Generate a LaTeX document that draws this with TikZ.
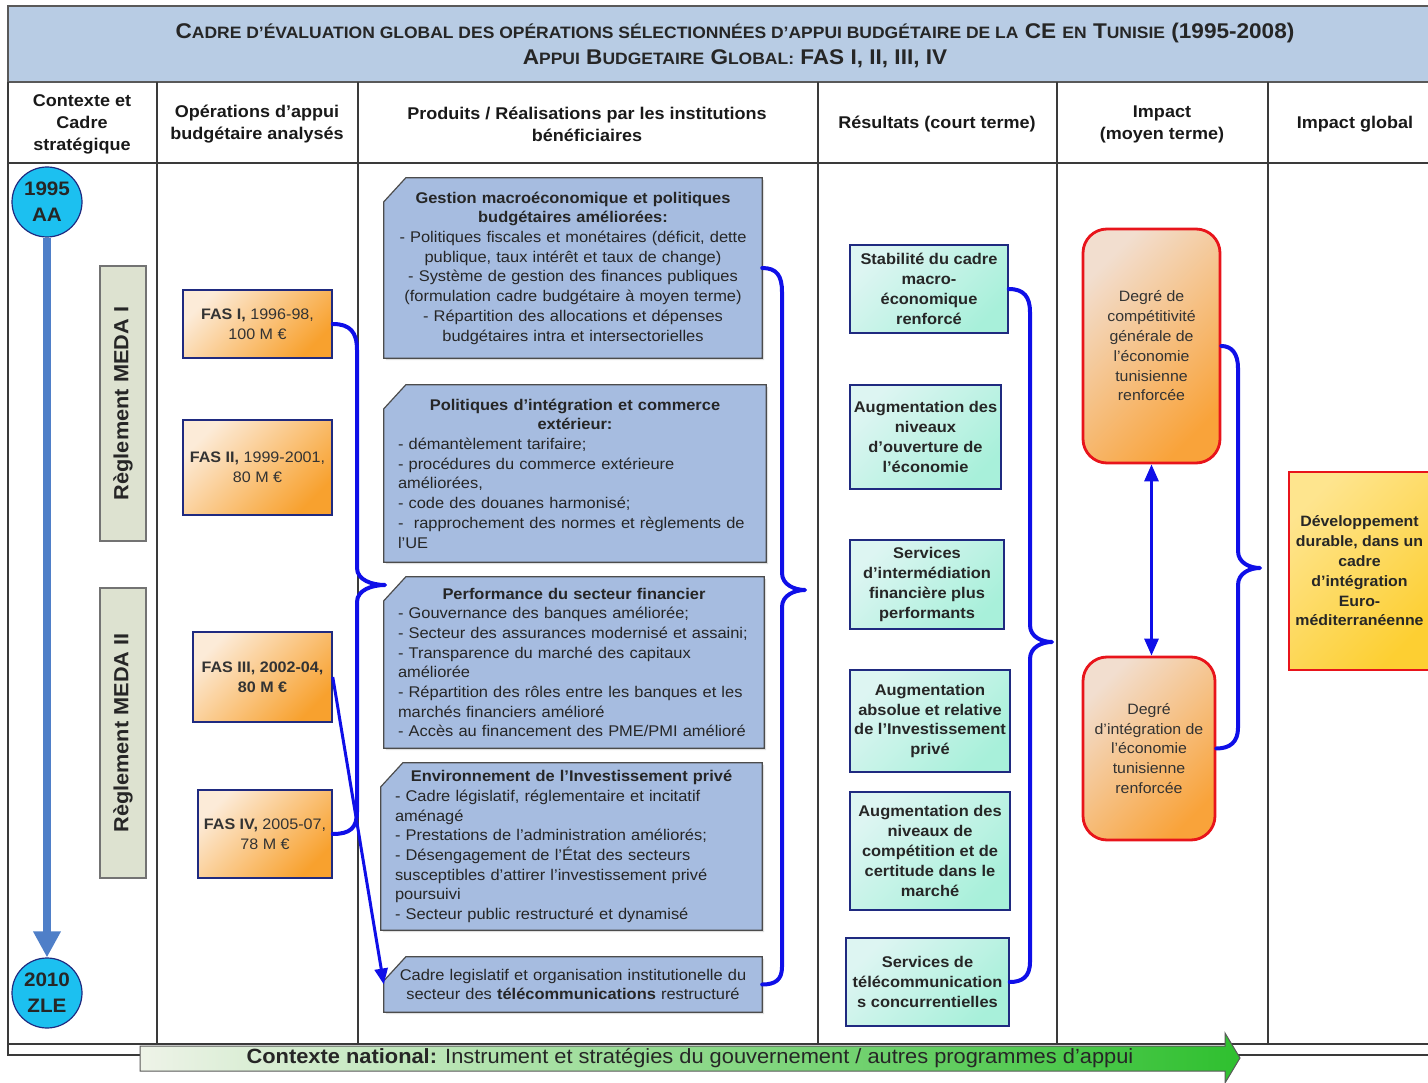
\documentclass[tikz,border=0pt]{standalone}
\usepackage{fontspec}
\setmainfont{Liberation Sans}[FakeStretch=1.06]
\usetikzlibrary{arrows.meta,shadows}
\pgfdeclarelayer{bg}
\pgfsetlayers{bg,main}
\definecolor{hdrblue}{HTML}{B8CCE4}
\definecolor{prodblue}{HTML}{A6BCE0}
\definecolor{navy}{HTML}{1F2A80}
\definecolor{fasA}{HTML}{FCEBD8}
\definecolor{fasB}{HTML}{F8A12E}
\definecolor{mintA}{HTML}{DDF5F2}
\definecolor{mintB}{HTML}{A8F0DA}
\definecolor{impA}{HTML}{F2DECF}
\definecolor{impB}{HTML}{F9A33A}
\definecolor{impred}{HTML}{E8141B}
\definecolor{globY}{HTML}{FDCF32}
\definecolor{medag}{HTML}{DDE2D0}
\definecolor{cyanc}{HTML}{1CC0F0}
\definecolor{tlblue}{HTML}{4F7FC8}
\definecolor{brblue}{HTML}{0F0FE8}
\definecolor{grA}{HTML}{EEF3E8}
\definecolor{grB}{HTML}{2FC02F}
\definecolor{gridc}{HTML}{3A3A3A}
\newcommand\Lr[1]{\noindent\makebox[\hsize][l]{#1}\par}
\newcommand\Lc[1]{\noindent\makebox[\hsize][c]{#1}\par}
\newcommand\tsc[2]{{\fontsize{21.3}{26}\selectfont #1}{\fontsize{16.5}{26}\selectfont #2}}
\tikzset{
  gridline/.style={draw=gridc, line width=1.3pt},
  colhead/.style={font=\fontsize{17}{22}\selectfont\bfseries, align=center, text=black!90},
  prod/.style={inner xsep=14pt, inner ysep=0pt, font=\fontsize{15.5}{19.7}\selectfont, text=black!85},
  prodshape/.style={fill=prodblue, draw=black!70, line width=1.2pt, drop shadow={shadow xshift=2pt, shadow yshift=-2pt, opacity=0.25}},
  fasbox/.style={draw=navy, line width=1.5pt, left color=fasA, right color=fasB, shading angle=45, align=center, inner sep=2pt, font=\fontsize{15.2}{20}\selectfont, text=black!80},
  resbox/.style={draw=navy, line width=1.5pt, left color=mintA, right color=mintB, shading angle=45, align=center, inner sep=2pt, font=\fontsize{15.5}{19.8}\selectfont\bfseries, text=black!85},
  impbox/.style={draw=impred, line width=2.8pt, rounded corners=24pt, left color=impA, right color=impB, shading angle=45, align=center, inner sep=2pt, font=\fontsize{15}{19.8}\selectfont, text=black!80},
  globbox/.style={draw=impred, line width=1.2pt, left color=globY!55!white, right color=globY, shading angle=45, align=center, inner sep=2pt, font=\fontsize{15}{19.8}\selectfont\bfseries, text=black!85},
  medabox/.style={draw=black!55, fill=medag, line width=1.2pt, rotate=90, inner sep=0pt, font=\fontsize{20.5}{24}\selectfont\bfseries, text=black!85},
  yearc/.style={circle, draw=navy, fill=cyanc, line width=1.2pt, minimum size=70pt, inner sep=0pt, align=center, font=\fontsize{19.5}{26}\selectfont\bfseries, text=black!85},
  brace/.style={draw=brblue, line width=4pt, line join=round, line cap=round},
  conn/.style={draw=brblue, line width=3pt},
  tlarrow/.style={draw=tlblue, line width=8pt, -{Triangle[width=26pt,length=26pt]}},
}
\begin{document}
\begin{tikzpicture}[x=1pt,y=-1pt]
\useasboundingbox (0,0) rectangle (1428,1083);
% header
\draw[fill=hdrblue, draw=black!65, line width=2pt] (8,6) rectangle (1431,82);
\node[align=center, font=\fontsize{21.3}{26}\selectfont\bfseries, text=black!85] (title) at (735,45)
 {\tsc{C}{ADRE D’ÉVALUATION GLOBAL DES OPÉRATIONS SÉLECTIONNÉES D’APPUI BUDGÉTAIRE DE LA} CE \tsc{}{EN} \tsc{T}{UNISIE} (1995-2008)\\
  \tsc{A}{PPUI} \tsc{B}{UDGETAIRE} \tsc{G}{LOBAL:} FAS I, II, III, IV};
% grid
\draw[gridline] (8,82) -- (8,1055) -- (1431,1055);
\draw[gridline] (8,1044) -- (1431,1044);
\draw[gridline] (8,163) -- (1431,163);
\foreach \xx in {157,358,818,1057,1268} \draw[gridline] (\xx,82) -- (\xx,1044);
% column headers
\node[colhead] (ch1) at (82,124) {Contexte et\\Cadre\\stratégique};
\node[colhead] (ch2) at (257,124) {Opérations d’appui\\budgétaire analysés};
\node[colhead] (ch3) at (587,124) {Produits / Réalisations par les institutions\\bénéficiaires};
\node[colhead] (ch4) at (937,124) {Résultats (court terme)};
\node[colhead] (ch5) at (1162,124) {Impact\\(moyen terme)};
\node[colhead] (ch6) at (1355,124) {Impact global};
% timeline
\node[yearc] (c1995) at (47,202) {1995\\AA};
\node[yearc] (c2010) at (47,993) {2010\\ZLE};
\draw[tlarrow] (c1995.south) -- (c2010.north);
% MEDA
\node[medabox, minimum width=275pt, minimum height=46pt] (meda1) at (123,403.5) {Règlement MEDA I};
\node[medabox, minimum width=290pt, minimum height=46pt] (meda2) at (123,733) {Règlement MEDA II};
% FAS
\node[fasbox, minimum width=149pt, minimum height=68pt] (fas1) at (257.5,324) {\textbf{FAS I,} 1996-98,\\100 M €};
\node[fasbox, minimum width=149pt, minimum height=95pt] (fas2) at (257.5,467.5) {\textbf{FAS II,} 1999-2001,\\80 M €};
\node[fasbox, minimum width=139pt, minimum height=90pt] (fas3) at (262.5,677) {\textbf{FAS III, 2002-04,}\\\textbf{80 M €}};
\node[fasbox, minimum width=134pt, minimum height=88pt] (fas4) at (265,834) {\textbf{FAS IV,} 2005-07,\\78 M €};
% products
\node[prod, text width=350pt, minimum height=180pt] (p1) at (573,268) {%
\Lc{\bfseries Gestion macroéconomique et politiques}
\Lc{\bfseries budgétaires améliorées:}
\Lc{- Politiques fiscales et monétaires (déficit, dette}
\Lc{publique, taux intérêt et taux de change)}
\Lc{- Système de gestion des finances publiques}
\Lc{(formulation cadre budgétaire à moyen terme)}
\Lc{- Répartition des allocations et dépenses}
\Lc{budgétaires intra et intersectorielles}};
\node[prod, text width=354pt, minimum height=177pt] (p2) at (575,473.5) {%
\Lc{\bfseries Politiques d’intégration et commerce}
\Lc{\bfseries extérieur:}
\Lr{- démantèlement tarifaire;}
\Lr{- procédures du commerce extérieure}
\Lr{améliorées,}
\Lr{- code des douanes harmonisé;}
\Lr{-\ \ rapprochement des normes et règlements de}
\Lr{l’UE}};
\node[prod, text width=352pt, minimum height=171pt] (p3) at (574,662.5) {%
\Lc{\bfseries Performance du secteur financier}
\Lr{- Gouvernance des banques améliorée;}
\Lr{- Secteur des assurances modernisé et assaini;}
\Lr{- Transparence du marché des capitaux}
\Lr{améliorée}
\Lr{- Répartition des rôles entre les banques et les}
\Lr{marchés financiers amélioré}
\Lr{- Accès au financement des PME/PMI amélioré}};
\node[prod, text width=353pt, minimum height=167pt] (p4) at (571.5,846.5) {%
\Lc{\bfseries Environnement de l’Investissement privé}
\Lr{- Cadre législatif, réglementaire et incitatif}
\Lr{aménagé}
\Lr{- Prestations de l’administration améliorés;}
\Lr{- Désengagement de l’État des secteurs}
\Lr{susceptibles d’attirer l’investissement privé}
\Lr{poursuivi}
\Lr{- Secteur public restructuré et dynamisé}};
\node[prod, text width=350pt, minimum height=55pt] (p5) at (573,984.5) {%
\Lc{Cadre legislatif et organisation institutionelle du}
\Lc{secteur des \textbf{télécommunications} restructuré}};
\begin{pgfonlayer}{bg}
\foreach \n in {p1,p2,p3,p4,p5}
  \path[prodshape] ([xshift=22pt]\n.north west) -- (\n.north east) -- (\n.south east) -- (\n.south west) -- ([yshift=-24pt]\n.north west) -- cycle;
\end{pgfonlayer}
% results
\node[resbox, minimum width=158pt, minimum height=88pt] (r1) at (929,289) {Stabilité du cadre\\macro-\\économique\\renforcé};
\node[resbox, minimum width=151pt, minimum height=104pt] (r2) at (925.5,437) {Augmentation des\\niveaux\\d’ouverture de\\l’économie};
\node[resbox, minimum width=154pt, minimum height=89pt] (r3) at (927,584.5) {Services\\d’intermédiation\\financière plus\\performants};
\node[resbox, minimum width=160pt, minimum height=102pt] (r4) at (930,721) {Augmentation\\absolue et relative\\de l’Investissement\\privé};
\node[resbox, minimum width=160pt, minimum height=118pt] (r5) at (930,851) {Augmentation des\\niveaux de\\compétition et de\\certitude dans le\\marché};
\node[resbox, minimum width=163pt, minimum height=88pt] (r6) at (927.5,982) {Services de\\télécommunication\\s concurrentielles};
% impacts
\node[impbox, minimum width=137pt, minimum height=234pt] (i1) at (1151.5,346) {Degré de\\compétitivité\\générale de\\l’économie\\tunisienne\\renforcée};
\node[impbox, minimum width=132pt, minimum height=183pt] (i2) at (1149,748.5) {Degré\\d’intégration de\\l’économie\\tunisienne\\renforcée};
\node[globbox, minimum width=141pt, minimum height=198pt] (gl) at (1359.5,571) {Développement\\durable, dans un\\cadre\\d’intégration\\Euro-\\méditerranéenne};
% connectors
\coordinate (t1) at (385,585);
\coordinate (t2) at (805,590);
\coordinate (t3) at (1052,642);
\coordinate (t4) at (1260,568);
\draw[brace] (fas1.east) .. controls (350,324) and (357,332) .. (357,350) -- (357,568) .. controls (357,580) and (372,585) .. (t1) .. controls (372,585) and (357,590) .. (357,602) -- (357,812) .. controls (357,828) and (350,834) .. (fas4.east);
\draw[brace] (p1.east) .. controls (777,268) and (782,276) .. (782,292) -- (782,573) .. controls (782,585) and (795,590) .. (t2) .. controls (795,590) and (782,595) .. (782,607) -- (782,967) .. controls (782,980) and (775,984.5) .. (p5.east);
\draw[brace] (r1.east) .. controls (1024,289) and (1030,297) .. (1030,312) -- (1030,625) .. controls (1030,637) and (1042,642) .. (t3) .. controls (1042,642) and (1030,647) .. (1030,659) -- (1030,962) .. controls (1030,977) and (1022,982) .. (r6.east);
\draw[brace] (i1.east) .. controls (1232,346) and (1238,354) .. (1238,368) -- (1238,551) .. controls (1238,563) and (1250,568) .. (t4) .. controls (1250,568) and (1238,573) .. (1238,585) -- (1238,728) .. controls (1238,742) and (1230,748.5) .. (i2.east);
\draw[conn, -{Triangle[length=16pt,width=13pt]}] (fas3.east) -- (p5.west);
\draw[conn, {Triangle[length=17pt,width=14pt]}-{Triangle[length=17pt,width=14pt]}] (i1.south) -- (i1.south |- i2.north);
% bottom context arrow
\shade[left color=grA, right color=grB, draw=black!65, line width=1pt] (140,1046) -- (1225,1046) -- (1225,1033) -- (1240,1058) -- (1225,1083) -- (1225,1071) -- (140,1071) -- cycle;
\node[font=\fontsize{20.6}{24}\selectfont, text=black!85] (ctx) at (690,1058.5) {\textbf{Contexte national:} Instrument et stratégies du gouvernement / autres programmes d’appui};
\end{tikzpicture}
\end{document}
